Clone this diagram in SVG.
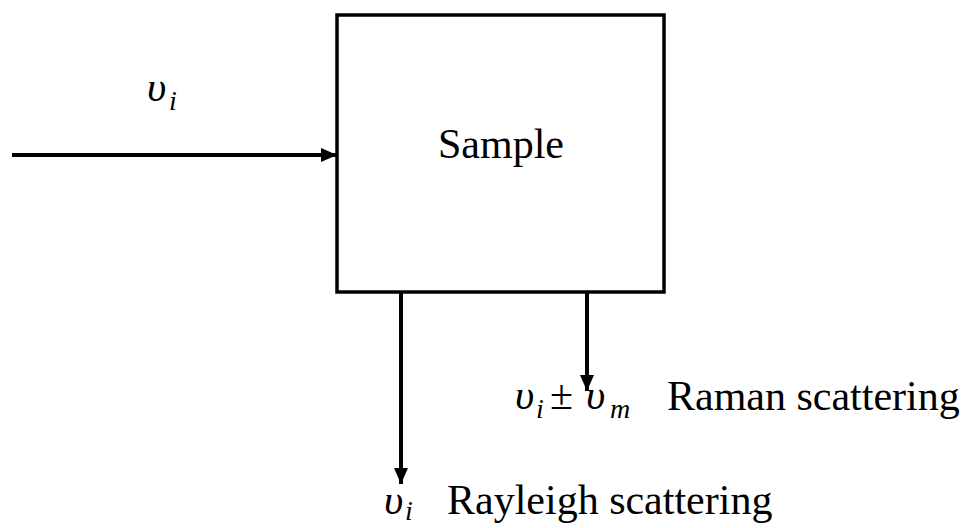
<svg xmlns="http://www.w3.org/2000/svg" width="969" height="528" viewBox="0 0 969 528">
<style>
text{font-family:"Liberation Serif","Times New Roman","DejaVu Serif",serif;fill:#000}
.t{font-size:42px}
.v{font-style:italic;font-size:42px}
.s{font-style:italic;font-size:28px}
.c{stroke:#000;stroke-width:4;fill:none}
</style>
<defs>
<marker id="ah" viewBox="0 0 16 16" refX="16" refY="8" markerWidth="16" markerHeight="16" markerUnits="userSpaceOnUse" orient="auto">
<path d="M0,1 L16,8 L0,15 Z" fill="#000"/>
</marker>
</defs>
<rect width="969" height="528" fill="#fff"/>
<g id="sample">
<rect x="337" y="15" width="327" height="277" fill="none" stroke="#000" stroke-width="3.5"/>
<text class="t" x="438" y="158">Sample</text>
</g>
<g id="connectors">
<line class="c" x1="12" y1="155" x2="337" y2="155" marker-end="url(#ah)"/>
<line class="c" x1="401" y1="291" x2="401" y2="484" marker-end="url(#ah)"/>
<line class="c" x1="587" y1="291" x2="587" y2="391" marker-end="url(#ah)"/>
</g>
<g id="label-in">
<text class="v" x="147" y="101">υ</text><text class="s" x="169" y="110">i</text>
</g>
<g id="label-raman">
<text class="v" x="515" y="409">υ</text><text class="s" x="536" y="418">i</text>
<text class="t" x="550" y="409">±</text>
<text class="v" x="586" y="409">υ</text><text class="s" x="610" y="418">m</text>
<text class="t" x="667" y="410">Raman scattering</text>
</g>
<g id="label-rayleigh">
<text class="v" x="384" y="514">υ</text><text class="s" x="405" y="520">i</text>
<text class="t" x="447" y="514">Rayleigh scattering</text>
</g>
</svg>
